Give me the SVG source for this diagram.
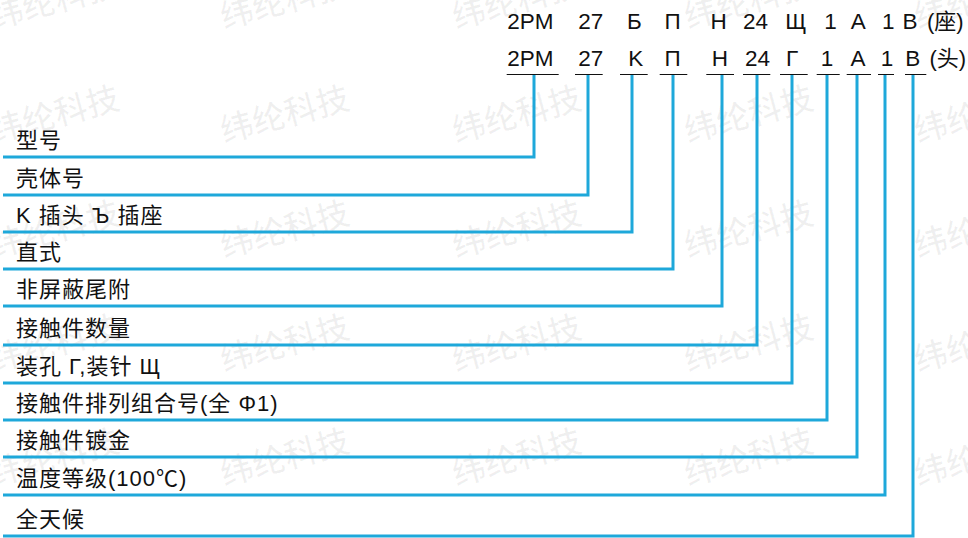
<svg xmlns="http://www.w3.org/2000/svg" width="968" height="538" viewBox="0 0 968 538">
<style>
.wm{font-family:"Noto Sans CJK SC",sans-serif;font-size:33px;font-weight:500;fill:#000;fill-opacity:0.06;text-anchor:middle}
.code{font-family:"Liberation Sans","DejaVu Sans","Noto Sans CJK SC",sans-serif;font-size:22.5px;fill:#111;text-anchor:middle}
.suf{font-family:"Liberation Sans","Noto Sans CJK SC",sans-serif;font-size:22px;fill:#111}
.lbl{font-family:"Liberation Sans","Noto Sans CJK SC",sans-serif;font-size:22px;letter-spacing:1px;fill:#111}
.ul{stroke:#111;stroke-width:1;fill:none}
.con{stroke:#1ea8da;stroke-width:3;fill:none;stroke-linejoin:miter}
</style>
<rect width="968" height="538" fill="#fff"/>
<g id="watermarks">
<g transform="translate(55,1) rotate(-15)"><text class="wm" y="11">纬纶科技</text></g>
<g transform="translate(285,1) rotate(-15)"><text class="wm" y="11">纬纶科技</text></g>
<g transform="translate(517,1) rotate(-15)"><text class="wm" y="11">纬纶科技</text></g>
<g transform="translate(749,1) rotate(-15)"><text class="wm" y="11">纬纶科技</text></g>
<g transform="translate(979,1) rotate(-15)"><text class="wm" y="11">纬纶科技</text></g>
<g transform="translate(55,115) rotate(-15)"><text class="wm" y="11">纬纶科技</text></g>
<g transform="translate(285,115) rotate(-15)"><text class="wm" y="11">纬纶科技</text></g>
<g transform="translate(517,115) rotate(-15)"><text class="wm" y="11">纬纶科技</text></g>
<g transform="translate(749,115) rotate(-15)"><text class="wm" y="11">纬纶科技</text></g>
<g transform="translate(979,115) rotate(-15)"><text class="wm" y="11">纬纶科技</text></g>
<g transform="translate(55,230) rotate(-15)"><text class="wm" y="11">纬纶科技</text></g>
<g transform="translate(285,230) rotate(-15)"><text class="wm" y="11">纬纶科技</text></g>
<g transform="translate(517,230) rotate(-15)"><text class="wm" y="11">纬纶科技</text></g>
<g transform="translate(749,230) rotate(-15)"><text class="wm" y="11">纬纶科技</text></g>
<g transform="translate(979,230) rotate(-15)"><text class="wm" y="11">纬纶科技</text></g>
<g transform="translate(55,344) rotate(-15)"><text class="wm" y="11">纬纶科技</text></g>
<g transform="translate(285,344) rotate(-15)"><text class="wm" y="11">纬纶科技</text></g>
<g transform="translate(517,344) rotate(-15)"><text class="wm" y="11">纬纶科技</text></g>
<g transform="translate(749,344) rotate(-15)"><text class="wm" y="11">纬纶科技</text></g>
<g transform="translate(979,344) rotate(-15)"><text class="wm" y="11">纬纶科技</text></g>
<g transform="translate(55,458) rotate(-15)"><text class="wm" y="11">纬纶科技</text></g>
<g transform="translate(285,458) rotate(-15)"><text class="wm" y="11">纬纶科技</text></g>
<g transform="translate(517,458) rotate(-15)"><text class="wm" y="11">纬纶科技</text></g>
<g transform="translate(749,458) rotate(-15)"><text class="wm" y="11">纬纶科技</text></g>
<g transform="translate(979,458) rotate(-15)"><text class="wm" y="11">纬纶科技</text></g>
</g>
<g id="code-socket">
<text class="code" x="530.3" y="29.3">2PM</text>
<text class="code" x="590.7" y="29.3">27</text>
<text class="code" x="634.3" y="29.3">Б</text>
<text class="code" x="672.5" y="29.3">П</text>
<text class="code" x="718.5" y="29.3">H</text>
<text class="code" x="755.5" y="29.3">24</text>
<text class="code" x="795.8" y="29.3">Щ</text>
<text class="code" x="830.5" y="29.3">1</text>
<text class="code" x="858.2" y="29.3">A</text>
<text class="code" x="888.2" y="29.3">1</text>
<text class="code" x="910" y="29.3">B</text>
<text class="suf" x="927" y="29.3">(座)</text>
</g>
<g id="code-plug">
<text class="code" x="530.3" y="66">2PM</text>
<text class="code" x="590.7" y="66">27</text>
<text class="code" x="635.7" y="66">K</text>
<text class="code" x="672.5" y="66">П</text>
<text class="code" x="719.8" y="66">H</text>
<text class="code" x="757.5" y="66">24</text>
<text class="code" x="792" y="66">Г</text>
<text class="code" x="827" y="66">1</text>
<text class="code" x="858" y="66">A</text>
<text class="code" x="887" y="66">1</text>
<text class="code" x="912.8" y="66">B</text>
<text class="suf" x="929.5" y="66">(头)</text>
<path class="ul" d="M506.7 74.5H558.7M575 74.5H602.7M620 74.5H647.7M659.7 74.5H687.3M706.3 74.5H734M743 74.5H770.3M780 74.5H807.7M816.7 74.5H839.7M846.7 74.5H871M878 74.5H894M905 74.5H926.3"/>
</g>
<g id="connectors">
<polyline class="con" points="3,157 534,157 534,75"/>
<polyline class="con" points="3,195 588,195 588,75"/>
<polyline class="con" points="3,232 632,232 632,75"/>
<polyline class="con" points="3,269 673,269 673,75"/>
<polyline class="con" points="3,306 722,306 722,75"/>
<polyline class="con" points="3,345 757,345 757,75"/>
<polyline class="con" points="3,383 792,383 792,75"/>
<polyline class="con" points="3,420 827,420 827,75"/>
<polyline class="con" points="3,457 857,457 857,75"/>
<polyline class="con" points="3,495 885,495 885,75"/>
<polyline class="con" points="3,536 913,536 913,75"/>
</g>
<g id="labels">
<text id="l1" class="lbl" x="16" y="147.5">型号</text>
<text id="l2" class="lbl" x="16" y="185.5">壳体号</text>
<text id="l3" class="lbl" x="16" y="222.5">K 插头 Ъ 插座</text>
<text id="l4" class="lbl" x="16" y="259.5">直式</text>
<text id="l5" class="lbl" x="16" y="296.5">非屏蔽尾附</text>
<text id="l6" class="lbl" x="16" y="335.5">接触件数量</text>
<text id="l7" class="lbl" x="16" y="373.5">装孔 Г,装针 Щ</text>
<text id="l8" class="lbl" x="16" y="410.5">接触件排列组合号(全 Φ1)</text>
<text id="l9" class="lbl" x="16" y="447.5">接触件镀金</text>
<text id="l10" class="lbl" x="16" y="485.5">温度等级(100℃)</text>
<text id="l11" class="lbl" x="16" y="526.5">全天候</text>
</g>
</svg>
